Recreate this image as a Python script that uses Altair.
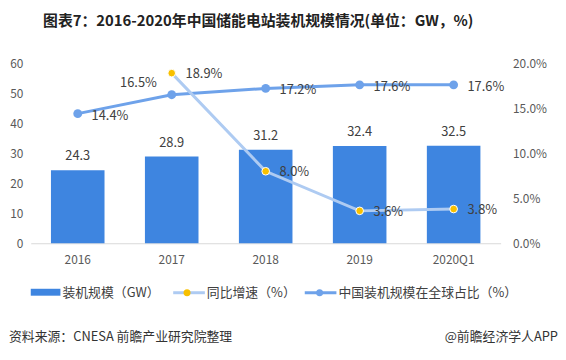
import altair as alt
import pandas as pd

years = ["2016", "2017", "2018", "2019", "2020Q1"]
capacity = [24.3, 28.9, 31.2, 32.4, 32.5]
growth = [None, 18.9, 8.0, 3.6, 3.8]
share = [14.4, 16.5, 17.2, 17.6, 17.6]

title_text = "图表7：2016-2020年中国储能电站装机规模情况(单位：GW，%)"
legend_labels = ["装机规模（GW）", "同比增速（%）", "中国装机规模在全球占比（%）"]
source_text = "资料来源：CNESA 前瞻产业研究院整理"
brand_text = "@前瞻经济学人APP"

FONT = "Noto Sans CJK SC"
BAR_C = "#3E85E0"
SHARE_C = "#6EA2EA"
GROWTH_LINE_C = "#AECBF2"
GROWTH_DOT_C = "#F8C000"
TXT_C = "#404040"

df = pd.DataFrame({"year": years, "cap": capacity, "growth": growth, "share": share})
base = alt.Chart(df)

x_enc = alt.X("year:N", sort=years, title=None,
              scale=alt.Scale(paddingInner=0.43, paddingOuter=0.215),
              axis=alt.Axis(labelAngle=0, ticks=False, tickSize=0, labelPadding=11,
                            domainColor="#D9D9D9", labelFontSize=12, labelColor="#595959",
                            labelFont=FONT, grid=False))

cap_scale = alt.Scale(domain=[0, 60], nice=False)
left_axis = alt.Axis(values=[0, 10, 20, 30, 40, 50, 60], ticks=False, domain=False, grid=False,
                     labelPadding=8, labelFontSize=12, labelColor="#595959", labelFont=FONT,
                     title=None)

bars = base.mark_bar(color=BAR_C).encode(
    x=x_enc,
    y=alt.Y("cap:Q", scale=cap_scale, axis=left_axis),
)
bar_labels = base.mark_text(dy=-10, baseline="alphabetic", fontSize=13, color=TXT_C, font=FONT).encode(
    x=alt.X("year:N", sort=years),
    y=alt.Y("cap:Q", scale=cap_scale, axis=left_axis),
    text=alt.Text("cap:Q", format=".1f"),
)
left_layer = alt.layer(bars, bar_labels)

pct_scale = alt.Scale(domain=[0, 20], nice=False)
right_axis = alt.Axis(orient="right", values=[0, 5, 10, 15, 20], ticks=False, domain=False, grid=False,
                      labelPadding=12, labelFontSize=12, labelColor="#595959", labelFont=FONT,
                      labelExpr="format(datum.value, '.1f') + '%'", title=None)

def py(field):
    return alt.Y(f"{field}:Q", scale=pct_scale, axis=right_axis)

xs = alt.X("year:N", sort=years)

share_line = base.mark_line(color=SHARE_C, strokeWidth=3).encode(x=xs, y=py("share"))
share_pts = base.mark_circle(color=SHARE_C, size=80, opacity=1).encode(x=xs, y=py("share"))
share_lab = base.mark_text(align="left", dx=14, dy=2, fontSize=13, color=TXT_C, font=FONT).encode(
    x=xs, y=py("share"), text=alt.Text("lbl:N")
).transform_calculate(lbl="format(datum.share, '.1f') + '%'").transform_filter("datum.year != '2017'")
share_lab17 = base.mark_text(align="right", dx=-15, dy=-12, fontSize=13, color=TXT_C, font=FONT).encode(
    x=xs, y=py("share"), text=alt.Text("lbl:N")
).transform_calculate(lbl="format(datum.share, '.1f') + '%'").transform_filter("datum.year == '2017'")
share_lead = base.mark_rule(color="#808080", strokeWidth=1).encode(
    x=xs, y=py("share")
).transform_filter("datum.year == '2017'")

gbase = base.transform_filter("isValid(datum.growth)")
growth_line = gbase.mark_line(color=GROWTH_LINE_C, strokeWidth=3).encode(x=xs, y=py("growth"))
growth_pts = gbase.mark_circle(color=GROWTH_DOT_C, size=60, opacity=1, stroke="white", strokeWidth=1).encode(x=xs, y=py("growth"))
growth_lab = gbase.mark_text(align="left", dx=14, dy=1, fontSize=13, color=TXT_C, font=FONT).encode(
    x=xs, y=py("growth"), text=alt.Text("lbl:N")
).transform_calculate(lbl="format(datum.growth, '.1f') + '%'")

right_layer = alt.layer(share_line, growth_line, share_pts, growth_pts, share_lab, share_lab17, growth_lab)

one = alt.Data(values=[{"a": 1}])

def txt(s, x, y, size=13, color=TXT_C, align="left", weight="normal"):
    return alt.Chart(one).mark_text(text=s, align=align, baseline="middle", fontSize=size,
                                    color=color, font=FONT, fontWeight=weight).encode(
        x=alt.value(x), y=alt.value(y))

def hline(x1, x2, y, color, w):
    return alt.Chart(one).mark_rule(color=color, strokeWidth=w).encode(
        x=alt.value(x1), x2=alt.value(x2), y=alt.value(y))

def dot(x, y, color, size):
    return alt.Chart(one).mark_circle(color=color, size=size, opacity=1).encode(
        x=alt.value(x), y=alt.value(y))

deco = alt.layer(
    txt(title_text, 230, -43, size=15, color="#222222", align="center", weight="bold"),
    alt.Chart(one).mark_rect(color=BAR_C).encode(x=alt.value(0), x2=alt.value(30),
                                                y=alt.value(228), y2=alt.value(235)),
    txt(legend_labels[0], 32, 232),
    hline(144, 176, 232, GROWTH_LINE_C, 3),
    dot(158, 232, GROWTH_DOT_C, 50),
    txt(legend_labels[1], 178, 232),
    hline(277, 309, 232, SHARE_C, 3),
    dot(292, 232, SHARE_C, 50),
    txt(legend_labels[2], 311, 232),
    txt(source_text, -22, 277, size=13, color="#333333"),
    txt(brand_text, 533, 277, size=13, color="#333333", align="right"),
)

chart = alt.layer(left_layer, right_layer, deco).resolve_scale(y="independent").properties(
    width=475, height=182,
    autosize=alt.AutoSizeParams(type="none"),
    padding={"left": 23, "top": 54, "right": 58, "bottom": 100},
    background="white",
).configure_view(stroke=None)

chart.save("out.html", embed_options={"renderer": "svg", "actions": False})
